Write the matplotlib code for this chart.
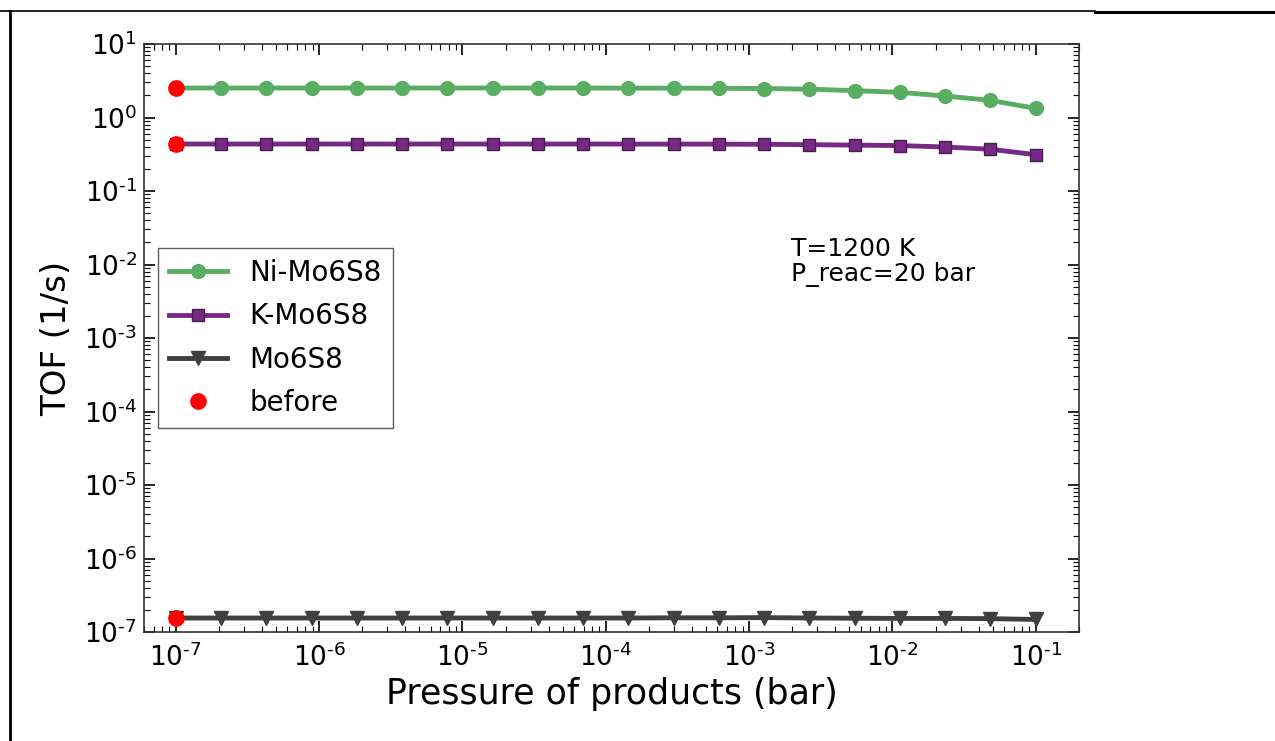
"""TOF vs. product pressure for the three Mo6S8 catalysts at 1200 K."""

import matplotlib
matplotlib.use("Agg")
import matplotlib.pyplot as plt
from matplotlib.lines import Line2D
from matplotlib.ticker import FuncFormatter
import numpy as np

# product partial pressures (bar)
pressure = [1.000e-7, 2.069e-7, 4.281e-7, 8.859e-7, 1.833e-6, 3.793e-6,
            7.848e-6, 1.624e-5, 3.360e-5, 6.952e-5, 1.438e-4, 2.976e-4,
            6.158e-4, 1.274e-3, 2.637e-3, 5.456e-3, 1.129e-2, 2.336e-2,
            4.833e-2, 1.000e-1]

# turnover frequencies (1/s)
tof_ni = [2.52, 2.52, 2.52, 2.52, 2.52, 2.52, 2.52, 2.52, 2.52, 2.52,
          2.51, 2.51, 2.50, 2.48, 2.43, 2.32, 2.20, 1.96, 1.71, 1.33]
tof_k = [0.436, 0.436, 0.436, 0.436, 0.436, 0.436, 0.436, 0.436, 0.436, 0.436,
         0.435, 0.435, 0.434, 0.432, 0.427, 0.421, 0.415, 0.397, 0.370, 0.312]
tof_mo = [1.55e-7, 1.55e-7, 1.55e-7, 1.55e-7, 1.55e-7, 1.55e-7, 1.55e-7,
          1.55e-7, 1.55e-7, 1.55e-7, 1.55e-7, 1.56e-7, 1.56e-7, 1.57e-7,
          1.55e-7, 1.54e-7, 1.53e-7, 1.53e-7, 1.52e-7, 1.48e-7]

# initial rates before product build-up
before_p = [1e-7, 1e-7, 1e-7]
before_tof = [2.52, 0.436, 1.55e-7]

GREEN = "#5aae61"
PURPLE = "#762a83"
GREY = "#404040"


def pow10(v, _pos):
    # plain hyphen in the exponent, upright digits
    e = int(round(np.log10(v)))
    sign = r"\text{-}" if e < 0 else ""
    return r"$\mathregular{10^{%s%d}}$" % (sign, abs(e))


fig = plt.figure(figsize=(12.75, 7.41), dpi=100)
ax = fig.add_axes([0.1129, 0.1471, 0.7333, 0.7935])

ax.plot(pressure, tof_ni, "-o", color=GREEN, lw=3.5, ms=10,
        mec=GREEN, label="Ni-Mo6S8")
ax.plot(pressure, tof_k, "-s", color=PURPLE, lw=3.5, ms=9,
        mec="#4a1a55", mew=1.0, label="K-Mo6S8")
ax.plot(pressure, tof_mo, "-v", color=GREY, lw=3.5, ms=10,
        mec=GREY, label="Mo6S8")
ax.plot(before_p, before_tof, "o", color="red", ms=11, mec="red",
        ls="none", label="before")

ax.set_xscale("log")
ax.set_yscale("log")
ax.set_xlim(6e-8, 0.2)
ax.set_ylim(1e-7, 10)
ax.xaxis.set_major_formatter(FuncFormatter(pow10))
ax.yaxis.set_major_formatter(FuncFormatter(pow10))

ax.set_xlabel("Pressure of products (bar)", fontsize=25, labelpad=4)
ax.set_ylabel("TOF (1/s)", fontsize=24.5, labelpad=8)

ax.tick_params(which="both", direction="in", top=True, right=True,
               labelsize=19, color="black")
ax.tick_params(which="major", length=8, width=1.2)
ax.tick_params(axis="x", which="major", pad=8)
ax.tick_params(axis="y", which="major", pad=5)
ax.tick_params(which="minor", length=4, width=0.8)
for s in ax.spines.values():
    s.set_color("#333333")
    s.set_linewidth(1.2)

ax.text(0.692, 0.672, "T=1200 K\nP_reac=20 bar", transform=ax.transAxes,
        fontsize=18, va="top", ha="left", linespacing=1.05)

leg = ax.legend(loc="center left", bbox_to_anchor=(0.0, 0.5), fontsize=20,
                fancybox=False, edgecolor="#333333", numpoints=1,
                handlelength=2.1, handletextpad=0.8, borderpad=0.4,
                labelspacing=0.55)
leg.get_frame().set_linewidth(1.0)

# page border lines
fig.add_artist(Line2D([0, 0.859], [0.9845, 0.9845], color="black", lw=1.2,
                      transform=fig.transFigure))
fig.add_artist(Line2D([0.859, 1.0], [0.984, 0.984], color="black", lw=2.2,
                      transform=fig.transFigure))
fig.add_artist(Line2D([0.0075, 0.0075], [0.0, 0.9845], color="black", lw=2.0,
                      transform=fig.transFigure))

fig.savefig("out.png", dpi=100)
